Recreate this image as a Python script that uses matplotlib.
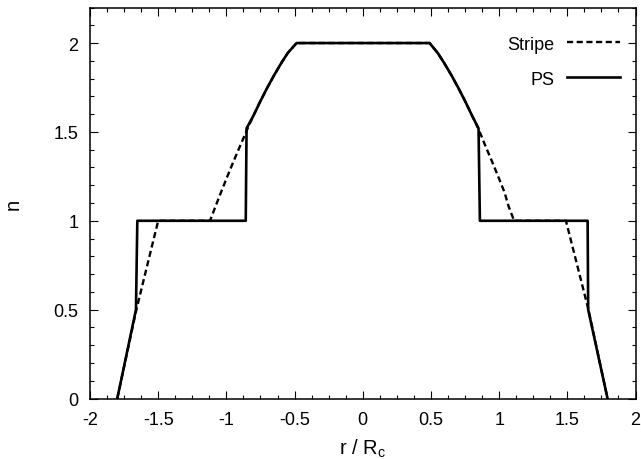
import numpy as np
import matplotlib
matplotlib.use("Agg")
import matplotlib.pyplot as plt
from matplotlib.ticker import MultipleLocator

plt.rcParams['font.family'] = ['Liberation Sans', 'DejaVu Sans']
plt.rcParams['mathtext.fontset'] = 'custom'
plt.rcParams['mathtext.rm'] = 'Liberation Sans'

###  Data
r_stripe = [-1.80, -1.66, -1.50, -1.12, -1.08, -1.04, -1.00, -0.95, -0.90, -0.844,
            -0.80, -0.75, -0.70, -0.65, -0.60, -0.55, -0.485,
            0.49, 0.55, 0.60, 0.65, 0.70, 0.75, 0.80, 0.847,
            0.90, 0.95, 1.00, 1.04, 1.07, 1.11, 1.49, 1.655, 1.795]
n_stripe = [0.0, 0.5, 1.0, 1.0, 1.08, 1.159, 1.236, 1.33, 1.42, 1.52,
            1.594, 1.674, 1.749, 1.819, 1.884, 1.944, 2.0,
            2.0, 1.944, 1.884, 1.819, 1.749, 1.674, 1.594, 1.52,
            1.42, 1.33, 1.236, 1.159, 1.08, 1.0, 1.0, 0.5, 0.0]

r_ps = [-1.80, -1.663, -1.653, -0.858, -0.852, -0.80, -0.75, -0.70, -0.65, -0.60, -0.55, -0.485,
        0.49, 0.55, 0.60, 0.65, 0.70, 0.75, 0.80, 0.849, 0.859, 1.649, 1.653, 1.795]
n_ps = [0.0, 0.5, 1.0, 1.0, 1.52, 1.594, 1.674, 1.749, 1.819, 1.884, 1.944, 2.0,
        2.0, 1.944, 1.884, 1.819, 1.749, 1.674, 1.594, 1.52, 1.0, 1.0, 0.5, 0.0]

xticks = [-2, -1.5, -1, -0.5, 0, 0.5, 1, 1.5, 2]
xticklabels = ['-2', '-1.5', '-1', '-0.5', '0', '0.5', '1', '1.5', '2']
yticks = [0, 0.5, 1, 1.5, 2]
yticklabels = ['0', '0.5', '1', '1.5', '2']

###  Plot
fig = plt.figure(figsize=(6.41, 4.60), dpi=100)
ax = fig.add_axes([90/641, 60.5/460, 545.5/641, 391/460])

ax.plot(r_stripe, n_stripe, color='black', lw=1.7, dashes=(2.6, 1.5), label='Stripe')
ax.plot(r_ps, n_ps, color='black', lw=1.9, label='PS')

ax.set_xlim(-2, 2)
ax.set_ylim(0, 2.2)
ax.set_xticks(xticks)
ax.set_xticklabels(xticklabels)
ax.set_yticks(yticks)
ax.set_yticklabels(yticklabels)
ax.xaxis.set_minor_locator(MultipleLocator(0.125))
ax.yaxis.set_minor_locator(MultipleLocator(0.1))
ax.tick_params(which='both', direction='in', top=True, right=True, width=0.8, labelsize=13)
ax.tick_params(which='major', length=6)
ax.tick_params(which='minor', length=3)
ax.tick_params(axis='x', pad=9)
ax.tick_params(axis='y', pad=8.5)
for s in ax.spines.values():
    s.set_linewidth(1.1)

ax.set_xlabel(r'r / R$_{\mathregular{c}}$', fontsize=14.5, labelpad=6)
ax.set_ylabel('n', fontsize=14.5, labelpad=22)

ax.legend(loc='upper right', bbox_to_anchor=((620 - 90) / 545.5, 1 - 28 / 391),
          markerfirst=False, frameon=False, fontsize=13, handlelength=2.95,
          handletextpad=0.7, labelspacing=1.0, borderpad=0, borderaxespad=0)

plt.savefig('out.png', dpi=100)
